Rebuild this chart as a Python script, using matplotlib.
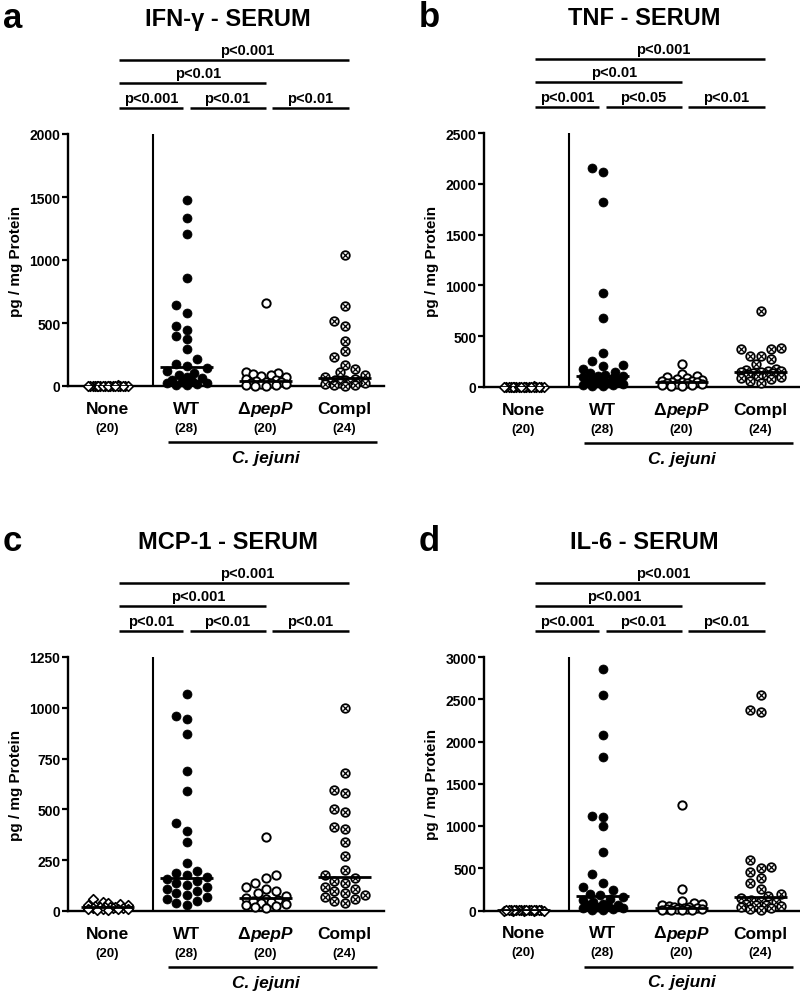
import numpy as np
import matplotlib
matplotlib.use('Agg')
import matplotlib.pyplot as plt
import matplotlib.transforms as mtransforms

plt.rcParams['font.family'] = ['Liberation Sans', 'DejaVu Sans']
plt.rcParams['font.weight'] = 'bold'

counts = ['(20)', '(28)', '(20)', '(24)']

# IFN-gamma (pg / mg protein)
ifn_none = [2, 1, 3, 0, 1, 2, 4, 1, 0, 2, 3, 1, 2, 0, 1, 3, 2, 1, 0, 2]
ifn_wt = [1475, 1330, 1210, 855, 640, 580, 475, 445, 400, 375, 295, 215, 175, 160,
          140, 120, 100, 90, 75, 60, 50, 40, 30, 25, 20, 15, 10, 5]
ifn_pepp = [655, 110, 100, 95, 90, 80, 70, 55, 45, 38, 35, 30, 25, 20, 15, 12, 8, 5, 3, 0]
ifn_compl = [1040, 635, 515, 480, 360, 275, 228, 168, 133, 110, 90, 75,
             55, 50, 45, 40, 35, 30, 25, 20, 15, 10, 5, 0]

# TNF
tnf_none = [3, 1, 2, 0, 4, 1, 2, 3, 0, 1, 2, 5, 1, 0, 2, 3, 1, 2, 0, 1]
tnf_wt = [2160, 2120, 1820, 930, 675, 335, 255, 220, 210, 175, 145, 140, 120, 112,
          105, 95, 85, 75, 65, 55, 50, 40, 35, 25, 20, 15, 10, 5]
tnf_pepp = [225, 125, 110, 100, 90, 80, 70, 62, 55, 52, 48, 45, 40, 35, 30, 25, 20, 15, 10, 5]
tnf_compl = [745, 380, 375, 370, 310, 305, 280, 225, 180, 170, 160, 155,
             150, 145, 140, 135, 130, 120, 110, 100, 90, 75, 60, 40]

# MCP-1
mcp_none = [60, 45, 40, 35, 30, 28, 25, 22, 20, 20, 18, 17, 15, 14, 12, 10, 9, 8, 6, 5]
mcp_wt = [1070, 960, 945, 870, 690, 590, 435, 395, 340, 235, 195, 185, 175, 165,
          158, 150, 140, 130, 120, 110, 100, 90, 80, 70, 60, 50, 40, 30]
mcp_pepp = [365, 175, 160, 140, 120, 110, 100, 90, 75, 65, 60, 55, 50, 45, 40, 35, 30, 25, 20, 15]
mcp_compl = [1000, 680, 595, 580, 500, 485, 415, 405, 340, 270, 200, 175,
             160, 150, 140, 120, 110, 100, 90, 80, 70, 60, 50, 40]

# IL-6
il6_none = [2, 0, 1, 3, 1, 0, 2, 4, 1, 2, 0, 3, 1, 2, 1, 0, 2, 1, 3, 0]
il6_wt = [2855, 2545, 2075, 1815, 1115, 1105, 1000, 690, 430, 330, 280, 240, 200, 185,
          160, 140, 120, 100, 80, 70, 60, 50, 40, 30, 25, 20, 10, 5]
il6_pepp = [1250, 250, 110, 90, 75, 65, 55, 45, 38, 32, 28, 25, 20, 18, 15, 12, 10, 8, 5, 2]
il6_compl = [2550, 2370, 2345, 600, 520, 500, 450, 380, 320, 260, 200, 170,
             150, 130, 110, 95, 80, 70, 60, 50, 40, 30, 20, 10]

panels = [
    dict(letter='a', title='IFN-γ - SERUM', data=[ifn_none, ifn_wt, ifn_pepp, ifn_compl],
         ymax=2000, step=500, geo=(68, 135, 387),
         p=['p<0.001', 'p<0.01', 'p<0.001', 'p<0.01', 'p<0.01']),
    dict(letter='b', title='TNF - SERUM', data=[tnf_none, tnf_wt, tnf_pepp, tnf_compl],
         ymax=2500, step=500, geo=(484, 134, 388),
         p=['p<0.001', 'p<0.01', 'p<0.001', 'p<0.05', 'p<0.01']),
    dict(letter='c', title='MCP-1 - SERUM', data=[mcp_none, mcp_wt, mcp_pepp, mcp_compl],
         ymax=1250, step=250, geo=(68, 658, 912),
         p=['p<0.001', 'p<0.001', 'p<0.01', 'p<0.01', 'p<0.01']),
    dict(letter='d', title='IL-6 - SERUM', data=[il6_none, il6_wt, il6_pepp, il6_compl],
         ymax=3000, step=500, geo=(484, 658, 911.5),
         p=['p<0.001', 'p<0.001', 'p<0.001', 'p<0.01', 'p<0.01']),
]

W, H = 800, 995
fig = plt.figure(figsize=(W / 100, H / 100), dpi=100)


def fy(py):
    return 1 - py / H


def swarm(ax, xc, vals):
    # spread points sideways (in pixels) so they overlap less, like a Prism scatter
    pts = ax.transData.transform(np.column_stack([np.full(len(vals), xc), vals]))
    ypx = pts[:, 1]
    order = np.argsort(ypx)
    placed = []
    offs = np.zeros(len(vals))
    first = [0, -10.5, 10.5, -20, 20]
    grid = np.linspace(-20, 20, 17)
    for i in order:
        best = None
        for o in first:
            if all(np.hypot(o - po, ypx[i] - yy) >= 8.5 for po, yy in placed):
                best = o
                break
        if best is None:
            scores = [min(np.hypot(o - po, ypx[i] - yy) for po, yy in placed) - abs(o) * 0.03
                      for o in grid]
            best = grid[int(np.argmax(scores))]
        placed.append((best, ypx[i]))
        offs[i] = best
    ppu = ax.bbox.width / (ax.get_xlim()[1] - ax.get_xlim()[0])
    return xc + offs / ppu


for pn in panels:
    left, top, zero = pn['geo']
    ax = fig.add_axes([left / W, fy(zero), 316 / W, (zero - top) / H])
    ax.set_xlim(-0.5, 3.5)
    ax.set_ylim(0, pn['ymax'])
    for s in ['top', 'right']:
        ax.spines[s].set_visible(False)
    for s in ['left', 'bottom']:
        ax.spines[s].set_linewidth(1.7)
    ax.set_yticks(np.arange(0, pn['ymax'] + 1, pn['step']))
    ax.set_xticks([])
    ax.tick_params(axis='y', length=4, width=1.6, pad=1.5, labelsize=10)
    for lab in ax.get_yticklabels():
        lab.set_fontweight('bold')

    ax.plot([0.58, 0.58], [0, pn['ymax']], color='black', lw=1.5, zorder=2)

    none, wt, pepp, compl = pn['data']
    xs = swarm(ax, 0, none)
    ax.scatter(xs, none, marker='D', s=24, facecolor='white', edgecolor='black',
               linewidths=1.2, zorder=3, clip_on=False)
    xs = swarm(ax, 1, wt)
    ax.scatter(xs, wt, marker='o', s=42, facecolor='black', edgecolor='black',
               linewidths=0.5, zorder=3, clip_on=False)
    xs = swarm(ax, 2, pepp)
    ax.scatter(xs, pepp, marker='o', s=36, facecolor='white', edgecolor='black',
               linewidths=1.4, zorder=3, clip_on=False)
    xs = swarm(ax, 3, compl)
    ax.scatter(xs, compl, marker='o', s=38, facecolor='white', edgecolor='black',
               linewidths=1.3, zorder=3, clip_on=False)
    ax.scatter(xs, compl, marker='x', s=11, color='black', linewidths=0.9,
               zorder=3.5, clip_on=False)

    for i, vals in enumerate(pn['data']):
        m = np.median(vals)
        ax.plot([i - 0.33, i + 0.33], [m, m], color='black', lw=2, zorder=4,
                solid_capstyle='butt')

    bl = mtransforms.blended_transform_factory(ax.transData, fig.transFigure)
    off = top - 135

    # title and panel letter
    fig.text((left + 160) / W, fy(26 + off), pn['title'], ha='center', va='baseline',
             fontsize=17, fontweight='bold')
    fig.text((left - 65) / W, fy(28 + off), pn['letter'], ha='left', va='baseline',
             fontsize=25, fontweight='bold')
    fig.text((left - 52) / W, fy((top + zero) / 2), 'pg / mg Protein', rotation=90,
             ha='center', va='center', fontsize=11, fontweight='bold')

    # significance bars
    bars = [(0.15, 3.06, 61, 1.77), (0.15, 2.0, 84, 1.15),
            (0.15, 0.96, 109, None), (1.04, 2.0, 109, None), (2.08, 3.06, 109, None)]
    for (x0, x1, ly, tx), lab in zip(bars, pn['p']):
        ax.plot([x0, x1], [fy(ly + off)] * 2, transform=bl, color='black', lw=1.8,
                clip_on=False, solid_capstyle='butt')
        if tx is None:
            tx = (x0 + x1) / 2
        ax.text(tx, fy(ly + off - 3), lab, transform=bl, ha='center', va='bottom',
                fontsize=10.5, fontweight='bold')

    # category labels
    base = zero - 387
    for i, name in enumerate(['None', 'WT', None, 'Compl']):
        if name:
            ax.text(i, fy(414 + base), name, transform=bl, ha='center', va='baseline',
                    fontsize=12.5, fontweight='bold')
        ax.text(i, fy(429 + base), counts[i], transform=bl, ha='center', va='center',
                fontsize=9.5, fontweight='bold')
    ax.text(2, fy(414 + base), 'Δ', ha='right', va='baseline', fontsize=12.5,
            fontweight='bold', transform=mtransforms.offset_copy(bl, fig=fig, x=-16, units='dots'))
    ax.text(2, fy(414 + base), 'pepP', ha='left', va='baseline', fontsize=12.5,
            fontweight='bold', style='italic',
            transform=mtransforms.offset_copy(bl, fig=fig, x=-15, units='dots'))
    ax.plot([0.77, 3.41], [fy(443 + base)] * 2, transform=bl, color='black', lw=1.8,
            clip_on=False, solid_capstyle='butt')
    ax.text(2.01, fy(463 + base), 'C. jejuni', transform=bl, ha='center', va='baseline',
            fontsize=12.5, fontweight='bold', style='italic')

fig.savefig('out.png', dpi=100)
